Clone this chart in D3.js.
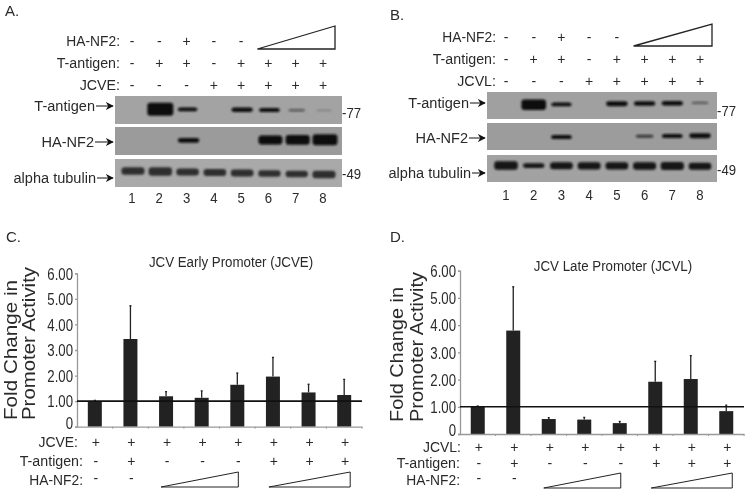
<!DOCTYPE html>
<html>
<head>
<meta charset="utf-8">
<script src="https://cdn.jsdelivr.net/npm/d3@7"></script>
<style>
  html, body { margin: 0; padding: 0; background: #fff; }
  svg { opacity: 0.999; }
  text { font-family: "Liberation Sans", Arial, sans-serif; fill: #2a2a2a; }
</style>
</head>
<body>
<div id="chart"></div>
<script>
// lanes and treatments, "" means the wedge covers that lane
var lanes = [1, 2, 3, 4, 5, 6, 7, 8];

var blotANf2 = ["-", "-", "+", "-", "-", "", "", ""];
var blotATag = ["-", "+", "+", "-", "+", "+", "+", "+"];
var blotAJcv = ["-", "-", "-", "+", "+", "+", "+", "+"];
var blotBNf2 = ["-", "-", "+", "-", "-", "", "", ""];
var blotBTag = ["-", "+", "+", "-", "+", "+", "+", "+"];
var blotBJcv = ["-", "-", "-", "+", "+", "+", "+", "+"];

// band density read off the blots, 0 = no band, 1 = heaviest
var densATag = [0, 1, 0.2, 0, 0.28, 0.24, 0.1, 0.04];
var densANf2 = [0, 0, 0.3, 0, 0, 0.68, 0.72, 0.82];
var densATub = [0.55, 0.6, 0.48, 0.5, 0.5, 0.45, 0.45, 0.55];
var densBTag = [0, 0.8, 0.22, 0, 0.32, 0.28, 0.27, 0.1];
var densBNf2 = [0, 0, 0.24, 0, 0, 0.14, 0.24, 0.32];
var densBTub = [0.62, 0.3, 0.5, 0.52, 0.5, 0.55, 0.58, 0.5];

// reporter assays
var earlyMean = [1.0, 3.43, 1.19, 1.13, 1.64, 1.96, 1.34, 1.24];
var earlyTop = [1.03, 4.73, 1.37, 1.4, 2.1, 2.71, 1.66, 1.85];
var lateMean = [1.0, 3.8, 0.55, 0.53, 0.4, 1.92, 2.02, 0.84];
var lateTop = [1.03, 5.41, 0.6, 0.61, 0.46, 2.67, 2.88, 1.06];

var earlyJcv = ["+", "+", "+", "+", "+", "+", "+", "+"];
var earlyTag = ["-", "+", "-", "-", "-", "+", "+", "+"];
var earlyNf2 = ["-", "-", "", "", "", "", "", ""];
var lateJcv = ["+", "+", "+", "+", "+", "+", "+", "+"];
var lateTag = ["-", "+", "-", "-", "-", "+", "+", "+"];
var lateNf2 = ["-", "-", "", "", "", "", "", ""];

var yTicks = [0, 1, 2, 3, 4, 5, 6];

var width = 748, height = 492;

var svg = d3.select("#chart")
    .append("svg")
    .attr("width", width)
    .attr("height", height)
    .style("display", "block");

var defs = svg.append("defs");
defs.append("filter")
    .attr("id", "soft")
    .attr("x", "-20%").attr("y", "-60%")
    .attr("width", "140%").attr("height", "220%")
    .append("feGaussianBlur")
    .attr("stdDeviation", 1);

defs.append("marker")
    .attr("id", "head")
    .attr("viewBox", "0 0 10 10")
    .attr("refX", 9).attr("refY", 5)
    .attr("markerWidth", 8).attr("markerHeight", 8)
    .attr("markerUnits", "userSpaceOnUse")
    .attr("orient", "auto")
    .append("path")
    .attr("d", "M0,0L10,5L0,10L3,5Z")
    .attr("fill", "#111");

// the figure type is tall and narrow, so squeeze x a bit
function label(x, y, str, size, anchor, squeeze) {
    return svg.append("text")
        .attr("transform", "translate(" + x + "," + y + ") scale(" + (squeeze || 1) + ",1)")
        .attr("dy", "0.35em")
        .attr("text-anchor", anchor || "middle")
        .style("font-size", size + "px")
        .text(str);
}

function wedge(x0, x1, yBase, yTop, sw) {
    svg.append("path")
        .attr("d", d3.line()([[x0, yBase], [x1, yBase], [x1, yTop]]) + "Z")
        .attr("fill", "#fff")
        .attr("stroke", "#222")
        .attr("stroke-width", sw);
}

// one row of + and - marks
function markRow(scale, marks, y, dx) {
    svg.append("g").selectAll("text")
        .data(marks)
        .join("text")
        .attr("x", function(d, i) { return scale(lanes[i]) + dx; })
        .attr("y", y)
        .attr("dy", "0.35em")
        .attr("text-anchor", "middle")
        .style("font-size", "14px")
        .text(function(d) { return d; });
}

function drawStrip(strip, scale, left, right) {
    var g = svg.append("g");
    g.append("rect")
        .attr("x", left)
        .attr("y", strip.y0)
        .attr("width", right - left)
        .attr("height", strip.y1 - strip.y0)
        .attr("fill", strip.bg);

    var thick = d3.scaleLinear().domain([0, 1]).range([1.2, 13]);
    var wide = d3.scaleLinear().domain([0, 0.25, 1]).range([14, 21, 26]);

    g.selectAll("rect.band")
        .data(strip.dens)
        .join("rect")
        .attr("class", "band")
        .attr("display", function(d) { return d > 0 ? null : "none"; })
        .attr("x", function(d, i) { return scale(lanes[i]) + strip.dx - wide(d) / 2; })
        .attr("y", function(d, i) { return strip.yc + strip.tilt * i - thick(d) / 2; })
        .attr("width", function(d) { return wide(d); })
        .attr("height", function(d) { return thick(d); })
        .attr("rx", 3)
        .attr("fill", strip.ink)
        .attr("opacity", function(d) { return Math.min(1, d * 5); })
        .attr("filter", "url(#soft)");

    // name and arrow in front of the strip
    label(strip.textX, strip.arrowY, strip.name, 15, "end", 0.97);
    svg.append("line")
        .attr("x1", strip.textX + 1)
        .attr("x2", left - 2)
        .attr("y1", strip.arrowY)
        .attr("y2", strip.arrowY)
        .attr("stroke", "#111")
        .attr("stroke-width", 1)
        .attr("marker-end", "url(#head)");
}

function drawBlot(opt) {
    var lane = d3.scalePoint().domain(lanes).range(opt.range);

    label(opt.letterX, opt.letterY, opt.letter, 15, "start");

    label(opt.rowX, opt.rows[0], "HA-NF2:", 15, "end", 0.92);
    label(opt.rowX, opt.rows[1], "T-antigen:", 15, "end", 0.95);
    label(opt.rowX, opt.rows[2], opt.jcv, 15, "end", 0.95);
    markRow(lane, opt.marks[0], opt.rows[0], 0);
    markRow(lane, opt.marks[1], opt.rows[1], 0);
    markRow(lane, opt.marks[2], opt.rows[2], 0);

    wedge(lane(6) - 11, lane(8) + 12, opt.wedge[0], opt.wedge[1], 1.3);

    opt.strips.forEach(function(s) { drawStrip(s, lane, opt.left, opt.right); });

    label(opt.right, opt.mw[0], "-77", 15.5, "start", 0.85);
    label(opt.right, opt.mw[1], "-49", 15.5, "start", 0.85);

    lanes.forEach(function(d) {
        label(lane(d), opt.laneY, d, 15.5, "middle", 0.85);
    });
}

function drawBars(opt) {
    var x = d3.scaleBand().domain(lanes).range([opt.left, opt.right]);
    var y = d3.scaleLinear().domain([0, 6]).range([opt.bottom, opt.top]);

    label(opt.letterX, opt.letterY, opt.letter, 15, "start");
    label(opt.titleX, opt.titleY, opt.title, 15.5, "middle", 0.86);

    var g = svg.append("g");

    // error bars first, bars sit on them
    g.selectAll("line.err")
        .data(opt.tops)
        .join("line")
        .attr("class", "err")
        .attr("x1", function(d, i) { return x(lanes[i]) + x.bandwidth() / 2; })
        .attr("x2", function(d, i) { return x(lanes[i]) + x.bandwidth() / 2; })
        .attr("y1", function(d, i) { return y(opt.means[i]); })
        .attr("y2", function(d) { return y(d); })
        .attr("stroke", "#222")
        .attr("stroke-width", 1.3);

    g.selectAll("line.cap")
        .data(opt.tops)
        .join("line")
        .attr("class", "cap")
        .attr("x1", function(d, i) { return x(lanes[i]) + x.bandwidth() / 2 - 1; })
        .attr("x2", function(d, i) { return x(lanes[i]) + x.bandwidth() / 2 + 1; })
        .attr("y1", function(d) { return y(d); })
        .attr("y2", function(d) { return y(d); })
        .attr("stroke", "#222")
        .attr("stroke-width", 1.3);

    g.selectAll("rect")
        .data(opt.means)
        .join("rect")
        .attr("x", function(d, i) { return x(lanes[i]) + x.bandwidth() / 2 - 7; })
        .attr("y", function(d) { return y(d); })
        .attr("width", 14)
        .attr("height", function(d) { return opt.bottom - y(d); })
        .attr("fill", "#222");

    var yAxis = d3.axisLeft(y)
        .tickValues(yTicks)
        .tickSize(2)
        .tickPadding(2)
        .tickFormat(function(d) { return d === 0 ? "0" : d.toFixed(2); });

    var yG = svg.append("g")
        .attr("transform", "translate(" + opt.left + ",0)")
        .call(yAxis);
    yG.selectAll("path, line").attr("stroke", "#999").attr("stroke-width", 1.3);
    yG.selectAll("text")
        .style("font-size", "16.5px")
        .attr("transform", "scale(0.8,1)")
        .attr("x", -opt.tickGap / 0.8)
        .attr("dy", function(d) { return d === 0 ? "0.1em" : "0.35em"; });

    var xAxis = d3.axisBottom(x).tickSize(0).tickFormat("");
    var xG = svg.append("g")
        .attr("transform", "translate(0," + opt.bottom + ")")
        .call(xAxis);
    xG.select("path").attr("stroke", "#999").attr("stroke-width", 1.3);
    xG.selectAll("line.edge")
        .data(lanes)
        .join("line")
        .attr("class", "edge")
        .attr("x1", function(d) { return x(d) + x.bandwidth(); })
        .attr("x2", function(d) { return x(d) + x.bandwidth(); })
        .attr("y1", 0)
        .attr("y2", 2)
        .attr("stroke", "#999");

    // reference line at 1.00
    svg.append("line")
        .attr("x1", opt.left)
        .attr("x2", opt.right)
        .attr("y1", y(1))
        .attr("y2", y(1))
        .attr("stroke", "#111")
        .attr("stroke-width", 1.6);

    // y title, both lines start at the same height
    svg.append("text")
        .attr("transform", "translate(" + opt.titleA + "," + opt.titleY0 + ") rotate(-90)")
        .attr("textLength", opt.lenA)
        .attr("lengthAdjust", "spacingAndGlyphs")
        .style("font-size", "18.5px")
        .text("Fold Change in");
    svg.append("text")
        .attr("transform", "translate(" + opt.titleB + "," + opt.titleY0 + ") rotate(-90)")
        .attr("textLength", opt.lenB)
        .attr("lengthAdjust", "spacingAndGlyphs")
        .style("font-size", "18.5px")
        .text("Promoter Activity");

    label(opt.rowX[0], opt.rows[0], opt.jcv, 15, "end", 0.93);
    label(opt.rowX[1], opt.rows[1], "T-antigen:", 15, "end", 0.95);
    label(opt.rowX[1], opt.rows[2], "HA-NF2:", 15, "end", 0.92);

    var center = function(d) { return x(d) + x.bandwidth() / 2; };
    markRow(center, opt.marks[0], opt.rows[0], 1);
    markRow(center, opt.marks[1], opt.rows[1], 1);
    markRow(center, opt.marks[2], opt.rows[2] - 2, 1);

    wedge(center(3) - 5, center(5) + 1, opt.wedge[0], opt.wedge[1], 1);
    wedge(center(6) - 4, center(8) + 6, opt.wedge[0], opt.wedge[1], 1);
}

drawBlot({
    letter: "A.", letterX: 5, letterY: 11,
    jcv: "JCVE:",
    range: [132, 323], left: 115, right: 342,
    rowX: 120, rows: [41, 63, 85],
    marks: [blotANf2, blotATag, blotAJcv],
    wedge: [49, 26],
    mw: [113, 174], laneY: 198,
    strips: [
        {name: "T-antigen", textX: 95, arrowY: 106, y0: 96, y1: 124, yc: 109, tilt: 0.2, dx: 1, bg: "#a3a3a3", ink: "#0c0c0c", dens: densATag},
        {name: "HA-NF2", textX: 94, arrowY: 142, y0: 127, y1: 155, yc: 140.5, tilt: -0.1, dx: 2, bg: "#9b9b9b", ink: "#0c0c0c", dens: densANf2},
        {name: "alpha tubulin", textX: 96, arrowY: 178, y0: 159, y1: 187, yc: 171, tilt: 0.5, dx: 1, bg: "#a9a9a9", ink: "#2e2e2e", dens: densATub}
    ]
});

drawBlot({
    letter: "B.", letterX: 390, letterY: 15,
    jcv: "JCVL:",
    range: [506, 700], left: 487, right: 717,
    rowX: 496, rows: [37, 59, 81],
    marks: [blotBNf2, blotBTag, blotBJcv],
    wedge: [46, 24],
    mw: [111, 170], laneY: 195,
    strips: [
        {name: "T-antigen", textX: 469, arrowY: 103, y0: 92, y1: 119, yc: 105, tilt: -0.3, dx: 0, bg: "#a0a0a0", ink: "#0c0c0c", dens: densBTag},
        {name: "HA-NF2", textX: 468, arrowY: 138, y0: 123, y1: 150, yc: 137.5, tilt: -0.25, dx: 0, bg: "#9c9c9c", ink: "#0c0c0c", dens: densBNf2},
        {name: "alpha tubulin", textX: 471, arrowY: 173, y0: 155, y1: 182, yc: 165.5, tilt: 0.1, dx: 0, bg: "#a2a2a2", ink: "#141414", dens: densBTub}
    ]
});

drawBars({
    letter: "C.", letterX: 6, letterY: 237,
    title: "JCV Early Promoter (JCVE)", titleX: 231, titleY: 262,
    jcv: "JCVE:",
    left: 77, right: 362, top: 273.3, bottom: 426.7, tickGap: 4,
    means: earlyMean, tops: earlyTop,
    titleA: 17, titleB: 35, titleY0: 420, lenA: 140, lenB: 153,
    rowX: [78, 83], rows: [442, 461, 480],
    marks: [earlyJcv, earlyTag, earlyNf2],
    wedge: [487, 472]
});

drawBars({
    letter: "D.", letterX: 390, letterY: 237,
    title: "JCV Late Promoter (JCVL)", titleX: 613, titleY: 266,
    jcv: "JCVL:",
    left: 460, right: 744, top: 270.7, bottom: 434, tickGap: 4,
    means: lateMean, tops: lateTop,
    titleA: 403, titleB: 423, titleY0: 422, lenA: 135, lenB: 150,
    rowX: [461, 460], rows: [447, 463, 480],
    marks: [lateJcv, lateTag, lateNf2],
    wedge: [488, 473]
});
</script>
</body>
</html>
